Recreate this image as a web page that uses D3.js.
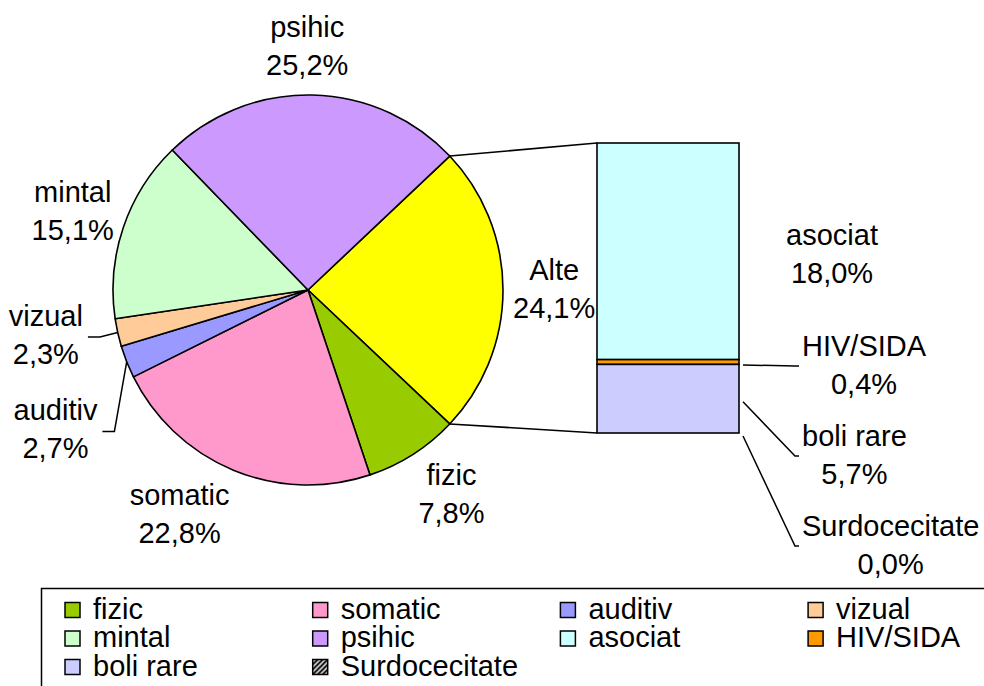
<!DOCTYPE html>
<html>
<head>
<meta charset="utf-8">
<script src="https://cdn.jsdelivr.net/npm/d3@7"></script>
<style>
  body { margin: 0; background: #fff; }
  svg { display: block; }
  text { font-family: "Liberation Sans", Arial, sans-serif; font-size: 29px; fill: #000; }
</style>
</head>
<body>
<svg id="chart" width="984" height="686"></svg>
<script>
// pie slices (Alte = the slice split into the bar)
var pieNames  = ["Alte", "fizic", "somatic", "auditiv", "vizual", "mintal", "psihic"];
var pieValues = [24.1, 7.8, 22.8, 2.7, 2.3, 15.1, 25.2];

// bar of the "Alte" slice, bottom to top
var barNames  = ["Surdocecitate", "boli rare", "HIV/SIDA", "asociat"];
var barValues = [0.0, 5.7, 0.4, 18.0];

var legendNames = ["fizic", "somatic", "auditiv", "vizual", "mintal", "psihic",
                   "asociat", "HIV/SIDA", "boli rare", "Surdocecitate"];

var colors = {
  "Alte": "#ffff00", "fizic": "#99cc00", "somatic": "#ff99cc", "auditiv": "#9999ff",
  "vizual": "#ffcc99", "mintal": "#ccffcc", "psihic": "#cc99ff", "asociat": "#ccffff",
  "HIV/SIDA": "#ff9900", "boli rare": "#ccccff", "Surdocecitate": "url(#hatch)"
};

// labels that Excel moved; the ones with a leader line were pushed away
var pieNudge = { "vizual": [-25, -7], "auditiv": [-20, 51], "psihic": [-8, 0] };
var leader = { "vizual": true, "auditiv": true };

var svg = d3.select("#chart");
var fmt = function(v) { return v.toFixed(1).replace(".", ",") + "%"; };

var defs = svg.append("defs");
var pat = defs.append("pattern")
    .attr("id", "hatch")
    .attr("patternUnits", "userSpaceOnUse")
    .attr("width", 5).attr("height", 5);
pat.append("rect").attr("width", 5).attr("height", 5).attr("fill", "#fff");
pat.append("path")
    .attr("d", "M-1,1 l2,-2 M0,5 l5,-5 M4,6 l2,-2")
    .attr("stroke", "#000").attr("stroke-width", 2);

var cx = 308, cy = 290, R = 195;

var total = d3.sum(pieValues);
var start = Math.PI / 2 - (pieValues[0] / total) * Math.PI;
var pie = d3.pie().sort(null).startAngle(start).endAngle(start + 2 * Math.PI);
var arcs = pie(pieValues);
var arc = d3.arc().innerRadius(0).outerRadius(R);

function pt(a, r) { return [cx + r * Math.sin(a), cy - r * Math.cos(a)]; }

var gPie = svg.append("g").attr("transform", "translate(" + cx + "," + cy + ")");
gPie.selectAll("path")
    .data(arcs)
  .enter().append("path")
    .attr("d", arc)
    .attr("fill", function(d, i) { return colors[pieNames[i]]; })
    .attr("stroke", "#000")
    .attr("stroke-width", 1.6)
    .attr("stroke-linejoin", "round");

// bar
var barX0 = 597, barX1 = 739;
var y = d3.scaleLinear().domain([0, d3.sum(barValues)]).range([433, 143]);
var cum = d3.cumsum(barValues);
var segs = barValues.map(function(v, i) {
  return { name: barNames[i], v: v, y0: cum[i] - v, y1: cum[i] };
});

// connector lines from the Alte slice to the bar
var pa = pt(arcs[0].startAngle, R), pb = pt(arcs[0].endAngle, R);
svg.append("line").attr("x1", pa[0]).attr("y1", pa[1]).attr("x2", barX0).attr("y2", y(d3.sum(barValues)))
    .attr("stroke", "#000").attr("stroke-width", 1.6);
svg.append("line").attr("x1", pb[0]).attr("y1", pb[1]).attr("x2", barX0).attr("y2", y(0))
    .attr("stroke", "#000").attr("stroke-width", 1.6);

svg.selectAll(".seg")
    .data(segs.slice().reverse())
  .enter().append("rect")
    .attr("class", "seg")
    .attr("x", barX0)
    .attr("width", barX1 - barX0)
    .attr("y", function(d) { return y(d.y1); })
    .attr("height", function(d) { return y(d.y0) - y(d.y1); })
    .attr("fill", function(d) { return colors[d.name]; })
    .attr("stroke", "#000")
    .attr("stroke-width", function(d) { return d.v === 0 ? 2.5 : 1.6; });

// two-line label, centred at (x, yc)
function label(x, yc, l1, l2) {
  var t = svg.append("text").attr("text-anchor", "middle");
  t.append("tspan").attr("x", x).attr("y", yc - 10).text(l1);
  t.append("tspan").attr("x", x).attr("y", yc + 28).text(l2);
  return t;
}
function width(l1, l2) {
  var t = svg.append("text");
  t.text(l1); var w1 = t.node().getComputedTextLength();
  t.text(l2); var w2 = t.node().getComputedTextLength();
  t.remove();
  return Math.max(w1, w2);
}

// pie labels
arcs.forEach(function(d, i) {
  var name = pieNames[i], a = (d.startAngle + d.endAngle) / 2;
  var w = width(name, fmt(pieValues[i])), h = 76;
  var anc = pt(a, R + 10);
  var lx = anc[0] + Math.max(-1, Math.min(1, 3 * Math.sin(a))) * w / 2;
  var ly = anc[1] - Math.cos(a) * h / 2;
  var n = pieNudge[name];
  if (n) { lx += n[0]; ly += n[1]; }
  if (leader[name]) {
    var e = pt(a, R), right = lx + w / 2;
    svg.append("polyline")
        .attr("points", [e, [right + 17, ly + 1], [right + 5, ly + 1]].join(" "))
        .attr("fill", "none").attr("stroke", "#000").attr("stroke-width", 1.5);
  }
  label(lx, ly, name, fmt(pieValues[i]));
});

// bar labels, stacked top-down to avoid overlap
var prev = -Infinity, labLeft = 802;
segs.slice().reverse().forEach(function(d, k) {
  var mid = (y(d.y0) + y(d.y1)) / 2;
  var ly = Math.max(mid + 4, prev + 90);
  prev = ly;
  var w = width(d.name, fmt(d.v));
  if (k === 0) {
    label(barX1 + 93, ly, d.name, fmt(d.v));
  } else {
    svg.append("polyline")
        .attr("points", [[barX1 + 4, mid + 3], [labLeft - 7, ly], [labLeft - 3, ly]].join(" "))
        .attr("fill", "none").attr("stroke", "#000").attr("stroke-width", 1.5);
    label(labLeft + w / 2, ly, d.name, fmt(d.v));
  }
});

// legend
svg.append("rect")
    .attr("x", 41.5).attr("y", 588.5)
    .attr("width", 960).attr("height", 120)
    .attr("fill", "none").attr("stroke", "#000").attr("stroke-width", 1.5);

var lg = svg.selectAll(".lg")
    .data(legendNames)
  .enter().append("g")
    .attr("class", "lg")
    .attr("transform", function(d, i) {
      return "translate(" + (65 + (i % 4) * 247.7) + "," + (602.5 + Math.floor(i / 4) * 28.5) + ")";
    });
lg.append("rect")
    .attr("width", 15).attr("height", 15)
    .attr("fill", function(d) { return colors[d]; })
    .attr("stroke", "#000").attr("stroke-width", 1.5);
lg.append("text")
    .attr("x", 28).attr("y", 16)
    .text(function(d) { return d; });
</script>
</body>
</html>
